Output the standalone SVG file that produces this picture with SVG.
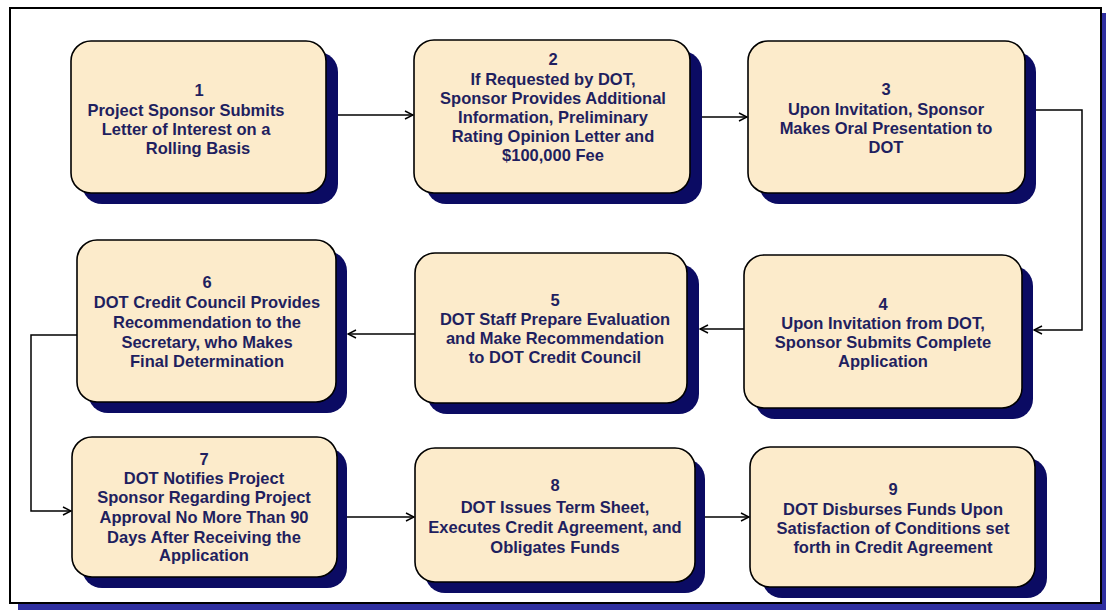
<svg xmlns="http://www.w3.org/2000/svg" width="1106" height="612" viewBox="0 0 1106 612">
<defs>
<marker id="arr" markerWidth="10" markerHeight="10" refX="9" refY="5" orient="auto" markerUnits="userSpaceOnUse">
<path d="M1,1 L9,5 L1,9" fill="none" stroke="#000" stroke-width="1.4"/>
</marker>
<style>
.sh{fill:#0b0b63}
.bx{fill:#fcebcb;stroke:#000;stroke-width:1.6}
.t{font-family:"Liberation Sans",Arial,sans-serif;font-weight:bold;font-size:16.5px;fill:#1f1f5f;text-anchor:middle}
.c{fill:none;stroke:#000;stroke-width:1.5}
</style>
</defs>
<rect x="0" y="0" width="1106" height="612" fill="#fff"/>
<g id="frame">
<rect x="18" y="13" width="1091" height="597" fill="#2f2fa0"/>
<rect x="10" y="8" width="1091" height="595" fill="#fff" stroke="#000" stroke-width="2"/>
</g>
<g id="connectors">
<path class="c" d="M338,115 H413" marker-end="url(#arr)"/>
<path class="c" d="M702,117 H747" marker-end="url(#arr)"/>
<path class="c" d="M1036,110 H1082 V330 H1034" marker-end="url(#arr)"/>
<path class="c" d="M744,329 H700" marker-end="url(#arr)"/>
<path class="c" d="M415,334 H348" marker-end="url(#arr)"/>
<path class="c" d="M77,335 H31 V511 H71" marker-end="url(#arr)"/>
<path class="c" d="M347,517 H414" marker-end="url(#arr)"/>
<path class="c" d="M705,517 H749" marker-end="url(#arr)"/>
</g>
<g id="node1">
<rect class="sh" x="82" y="52" width="256" height="152" rx="20"/>
<rect class="bx" x="71" y="41" width="255" height="152" rx="20"/>
<text class="t"><tspan x="199" y="96">1</tspan><tspan x="186" y="116">Project Sponsor Submits</tspan><tspan x="186" y="135">Letter of Interest on a</tspan><tspan x="198" y="154">Rolling Basis</tspan></text>
</g>
<g id="node2">
<rect class="sh" x="426" y="51" width="276" height="153" rx="20"/>
<rect class="bx" x="414" y="40" width="276" height="153" rx="20"/>
<text class="t"><tspan x="553" y="65">2</tspan><tspan x="553" y="85">If Requested by DOT,</tspan><tspan x="553" y="104">Sponsor Provides Additional</tspan><tspan x="553" y="123">Information, Preliminary</tspan><tspan x="553" y="142">Rating Opinion Letter and</tspan><tspan x="553" y="161">$100,000 Fee</tspan></text>
</g>
<g id="node3">
<rect class="sh" x="759" y="52" width="277" height="152" rx="20"/>
<rect class="bx" x="748" y="41" width="277" height="152" rx="20"/>
<text class="t"><tspan x="886" y="95">3</tspan><tspan x="886" y="115">Upon Invitation, Sponsor</tspan><tspan x="886" y="134">Makes Oral Presentation to</tspan><tspan x="886" y="153">DOT</tspan></text>
</g>
<g id="node4">
<rect class="sh" x="755" y="266" width="278" height="153" rx="20"/>
<rect class="bx" x="744" y="255" width="278" height="153" rx="20"/>
<text class="t"><tspan x="883" y="310">4</tspan><tspan x="883" y="329">Upon Invitation from DOT,</tspan><tspan x="883" y="348">Sponsor Submits Complete</tspan><tspan x="883" y="367">Application</tspan></text>
</g>
<g id="node5">
<rect class="sh" x="427" y="264" width="272" height="150" rx="20"/>
<rect class="bx" x="415" y="253" width="272" height="150" rx="20"/>
<text class="t"><tspan x="555" y="306">5</tspan><tspan x="555" y="325">DOT Staff Prepare Evaluation</tspan><tspan x="555" y="344">and Make Recommendation</tspan><tspan x="555" y="363">to DOT Credit Council</tspan></text>
</g>
<g id="node6">
<rect class="sh" x="88" y="251" width="259" height="162" rx="20"/>
<rect class="bx" x="77" y="240" width="259" height="162" rx="20"/>
<text class="t"><tspan x="207" y="288">6</tspan><tspan x="207" y="308">DOT Credit Council Provides</tspan><tspan x="207" y="328">Recommendation to the</tspan><tspan x="207" y="348">Secretary, who Makes</tspan><tspan x="207" y="367">Final Determination</tspan></text>
</g>
<g id="node7">
<rect class="sh" x="82" y="448" width="265" height="140" rx="20"/>
<rect class="bx" x="72" y="437" width="265" height="140" rx="20"/>
<text class="t"><tspan x="204" y="465">7</tspan><tspan x="204" y="484">DOT Notifies Project</tspan><tspan x="204" y="503">Sponsor Regarding Project</tspan><tspan x="204" y="523">Approval No More Than 90</tspan><tspan x="204" y="543">Days After Receiving the</tspan><tspan x="204" y="561">Application</tspan></text>
</g>
<g id="node8">
<rect class="sh" x="425" y="459" width="280" height="134" rx="20"/>
<rect class="bx" x="415" y="448" width="280" height="134" rx="20"/>
<text class="t"><tspan x="555" y="491">8</tspan><tspan x="555" y="513">DOT Issues Term Sheet,</tspan><tspan x="555" y="533">Executes Credit Agreement, and</tspan><tspan x="555" y="553">Obligates Funds</tspan></text>
</g>
<g id="node9">
<rect class="sh" x="762" y="458" width="285" height="140" rx="20"/>
<rect class="bx" x="750" y="447" width="285" height="140" rx="20"/>
<text class="t"><tspan x="893" y="495">9</tspan><tspan x="893" y="515">DOT Disburses Funds Upon</tspan><tspan x="893" y="534">Satisfaction of Conditions set</tspan><tspan x="893" y="553">forth in Credit Agreement</tspan></text>
</g>
</svg>
